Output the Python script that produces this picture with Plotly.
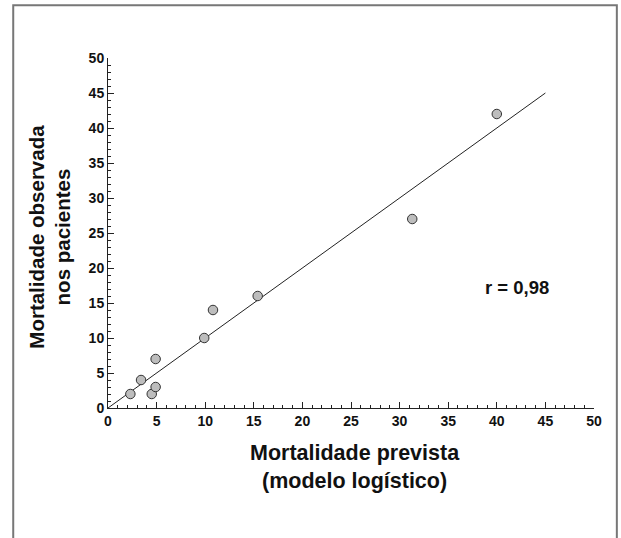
import plotly.graph_objects as go

# Data
predicted = [2.3, 3.4, 4.5, 4.9, 4.9, 9.9, 10.8, 15.4, 31.3, 40.0]
observed = [2.0, 4.0, 2.0, 3.0, 7.0, 10.0, 14.0, 16.0, 27.0, 42.0]
fit_x = [0, 45]
fit_y = [0, 45]
tick_vals = [0, 5, 10, 15, 20, 25, 30, 35, 40, 45, 50]
r_text = "r = 0,98"
x_title = "Mortalidade prevista<br>(modelo logístico)"
y_title = "Mortalidade observada<br>nos pacientes"

FONT = "Liberation Sans, Arial, sans-serif"

fig = go.Figure()
fig.add_trace(go.Scatter(x=fit_x, y=fit_y, mode="lines",
                         line=dict(color="#222222", width=1), hoverinfo="skip"))
fig.add_trace(go.Scatter(x=predicted, y=observed, mode="markers",
                         marker=dict(size=9.5, color="#bdbdbd",
                                     line=dict(color="#333333", width=1))))

axis_common = dict(
    range=[0, 50], tickmode="array", tickvals=tick_vals,
    ticks="inside", ticklen=6, tickwidth=1, tickcolor="#222222",
    minor=dict(ticks="inside", ticklen=3, dtick=1, tickcolor="#222222", tickwidth=1, showgrid=False),
    showline=True, linecolor="#222222", linewidth=1, showgrid=False, zeroline=False,
    tickfont=dict(family=FONT, size=14, color="#111111", weight="bold"),
)
fig.update_xaxes(**axis_common)
fig.update_yaxes(**axis_common)

fig.add_annotation(x=42.05, y=17.2, xref="x", yref="y", text=r_text, showarrow=False,
                   font=dict(family=FONT, size=18.5, color="#111111", weight="bold"))
fig.add_annotation(x=0.508, y=-0.169, xref="paper", yref="paper", text=x_title, showarrow=False,
                   font=dict(family=FONT, size=21.5, color="#111111", weight="bold"),
                   xanchor="center", yanchor="middle")
fig.add_annotation(x=-0.121, y=0.49, xref="paper", yref="paper", text=y_title, showarrow=False,
                   textangle=-90,
                   font=dict(family=FONT, size=20.5, color="#111111", weight="bold"),
                   xanchor="center", yanchor="middle")

fig.add_shape(type="rect", xref="paper", yref="paper",
              x0=-0.195, x1=1.047, y0=-0.5, y1=1.151,
              line=dict(color="#777777", width=2), fillcolor="rgba(0,0,0,0)")

fig.update_layout(
    width=621, height=538,
    margin=dict(l=108, r=27, t=58, b=130),
    paper_bgcolor="white", plot_bgcolor="white",
    showlegend=False,
)

fig.write_html("out.html", config={"displayModeBar": False},
               post_script="document.body.style.margin='0';")
